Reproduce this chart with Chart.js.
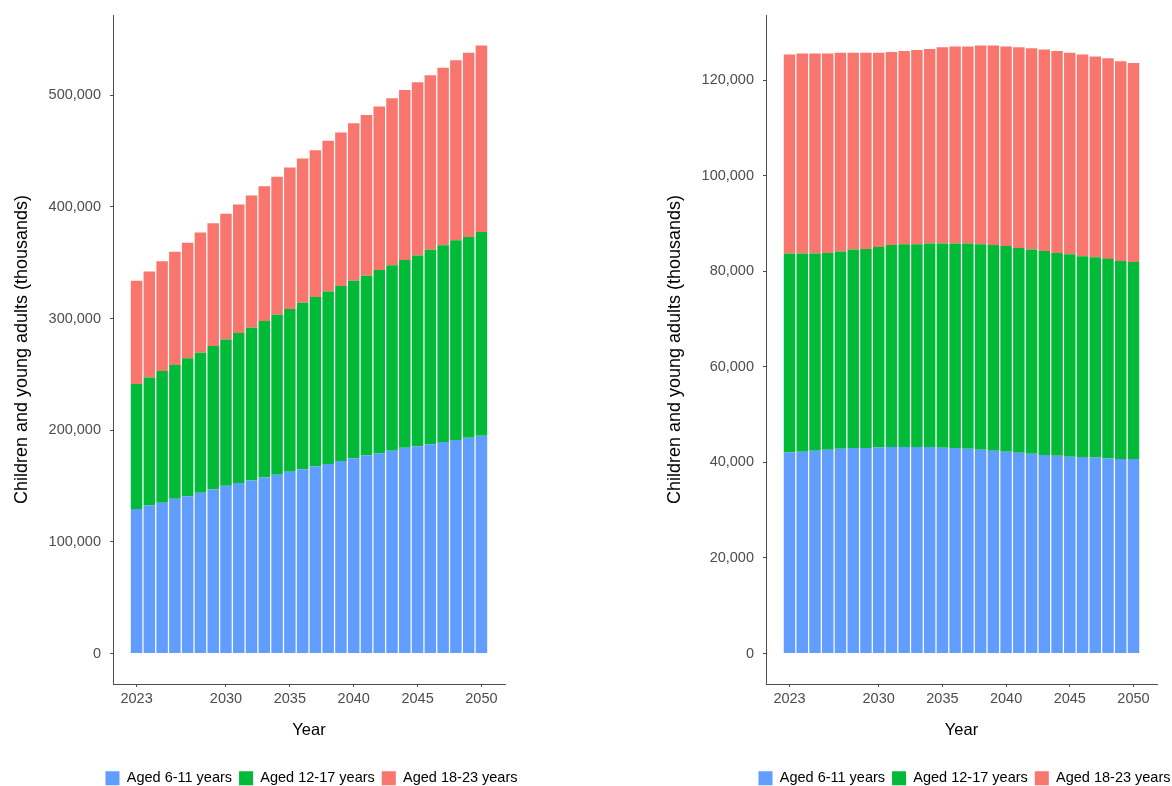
<!DOCTYPE html>
<html>
<head>
<meta charset="utf-8">
<script src="https://cdn.jsdelivr.net/npm/chart.js@4/dist/chart.umd.min.js"></script>
<style>
  html, body { margin: 0; padding: 0; background: #ffffff; overflow: hidden; width: 1172px; height: 786px; }
  canvas { position: absolute; top: 0; }
  #c1 { left: 0px; }
  #c2 { left: 640px; }
</style>
</head>
<body>
<canvas id="c1" width="623" height="800"></canvas>
<canvas id="c2" width="649" height="800"></canvas>
<script>
const years = [2023,2024,2025,2026,2027,2028,2029,2030,2031,2032,2033,2034,2035,2036,2037,2038,2039,2040,2041,2042,2043,2044,2045,2046,2047,2048,2049,2050];
const xTickYears = [2023,2030,2035,2040,2045,2050];
const seriesLabels = ['Aged 6-11 years','Aged 12-17 years','Aged 18-23 years'];
const seriesColors = ['#619CFF','#00BA38','#F8766D'];

// Left panel (thousands)
const leftAged6to11 = [129400,132700,135100,138600,141000,144000,147000,150300,152700,155000,157700,160100,162800,165200,167600,169900,172600,175000,177400,179200,181600,184300,185800,187500,189600,191400,193200,195000];
const leftAged12to17 = [112100,114500,118000,119900,123500,125500,128500,130900,134400,136900,140200,143400,145800,149100,151700,154500,156600,158900,161000,164300,166300,168100,170800,174200,176200,178900,179800,182500];
const leftAged18to23 = [92400,95100,98400,101400,103400,107700,110000,112700,115100,118400,120700,123500,126700,129100,131500,134800,137400,141100,144000,146400,149400,152400,155000,156200,158900,161000,165200,167200];
const leftYTicks = [0,100000,200000,300000,400000,500000];

// Right panel (thousands)
const rightAged6to11 = [42090,42230,42440,42650,42860,43000,43000,43130,43200,43200,43200,43200,43070,43000,42860,42650,42440,42230,42020,41810,41530,41390,41180,41110,41040,40840,40700,40700];
const rightAged12to17 = [41600,41460,41250,41180,41250,41530,41670,41950,42300,42440,42440,42580,42710,42780,42920,42990,43060,43060,42860,42720,42720,42440,42370,42020,41880,41740,41460,41250];
const rightAged18to23 = [41670,41880,41880,41740,41600,41180,41040,40630,40350,40420,40630,40700,41050,41250,41250,41600,41740,41740,41950,42090,42160,42230,42160,42230,42020,41950,41740,41600];
const rightYTicks = [0,20000,40000,60000,80000,100000,120000];

const yTitle = 'Children and young adults (thousands)';
const xTitle = 'Year';

const FONT = '"Liberation Sans", Arial, sans-serif';
const AXIS_COLOR = '#4d4d4d';

function makeChart(id, seriesList, yTicks, yAxisWidth, rightPad, yTitlePad) {
  const totals = years.map((_, i) => seriesList.reduce((s, arr) => s + arr[i], 0));
  const maxT = Math.max(...totals);
  const datasets = seriesList.map((arr, k) => ({
    label: seriesLabels[k],
    data: years.map((yr, i) => ({ x: yr, y: arr[i] })),
    backgroundColor: seriesColors[k],
    borderWidth: 0,
    barPercentage: 0.9,
    categoryPercentage: 1.0
  }));
  return new Chart(document.getElementById(id), {
    type: 'bar',
    data: { datasets },
    options: {
      responsive: false,
      animation: false,
      layout: { padding: { top: 15, left: 0, right: 0, bottom: 4.5 } },
      plugins: {
        legend: {
          position: 'bottom',
          labels: {
            boxWidth: 14, boxHeight: 14, padding: 7,
            color: '#000000',
            font: { family: FONT, size: 14.5 }
          }
        },
        tooltip: { enabled: false }
      },
      scales: {
        x: {
          type: 'linear',
          stacked: true,
          offset: false,
          min: 2021.155,
          max: 2051.845,
          afterBuildTicks: s => { s.ticks = xTickYears.map(v => ({ value: v })); },
          afterFit: s => { s.height = 80; s.paddingLeft = 0; s.paddingRight = 0; },
          ticks: {
            autoSkip: false, maxRotation: 0, padding: 3,
            color: AXIS_COLOR,
            font: { family: FONT, size: 14.5 },
            callback: v => String(v)
          },
          grid: { display: true, offset: false, drawOnChartArea: false, drawTicks: true, tickLength: 3, color: AXIS_COLOR, tickColor: AXIS_COLOR },
          border: { display: true, color: AXIS_COLOR, width: 1 },
          title: { display: true, text: xTitle, color: '#000000', font: { family: FONT, size: 16.5 }, padding: { top: 0, bottom: 24 } }
        },
        y: {
          type: 'linear',
          stacked: true,
          min: -0.05 * maxT,
          max: 1.05 * maxT,
          afterBuildTicks: s => { s.ticks = yTicks.map(v => ({ value: v })); },
          afterFit: s => { s.width = yAxisWidth; s.paddingTop = 0; s.paddingBottom = 0; },
          ticks: {
            padding: 9,
            color: AXIS_COLOR,
            font: { family: FONT, size: 14.5 },
            callback: v => Number(v).toLocaleString('en-US')
          },
          grid: { display: true, offset: false, drawOnChartArea: false, drawTicks: true, tickLength: 3, color: AXIS_COLOR, tickColor: AXIS_COLOR },
          border: { display: true, color: AXIS_COLOR, width: 1 },
          title: { display: true, text: yTitle, color: '#000000', font: { family: FONT, size: 18 }, padding: { top: yTitlePad, bottom: 0 } }
        },
        pad: {
          type: 'linear',
          position: 'right',
          display: true,
          ticks: { display: false },
          grid: { display: false },
          border: { display: false },
          afterFit: s => { s.width = rightPad; s.paddingTop = 0; s.paddingBottom = 0; }
        }
      }
    }
  });
}

makeChart('c1', [leftAged6to11, leftAged12to17, leftAged18to23], leftYTicks, 113, 118, 11);
makeChart('c2', [rightAged6to11, rightAged12to17, rightAged18to23], rightYTicks, 126, 132, 24);
</script>
</body>
</html>
